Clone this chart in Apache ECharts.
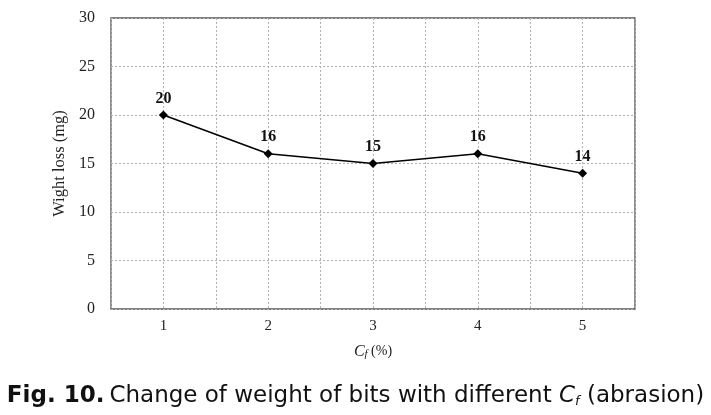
<!DOCTYPE html>
<html><head><meta charset="utf-8">
<script src="https://cdn.jsdelivr.net/npm/echarts@6/dist/echarts.min.js"></script>
<style>html,body{margin:0;padding:0;background:#fff}#c{width:711px;height:415px}</style>
</head><body><div id="c"></div>
<script>
const categories = [1, 2, 3, 4, 5];
const values = [20, 16, 15, 16, 14];
const yTicks = { min: 0, max: 30, interval: 5 };

const chart = echarts.init(document.getElementById('c'));
const serif = 'Liberation Serif';
const sans = 'DejaVu Sans';
chart.setOption({
  backgroundColor: '#fff',
  animation: false,
  grid: { left: 111, top: 18, width: 524, height: 291, show: true, borderColor: '#555', borderWidth: 1.3, backgroundColor: 'transparent' },
  xAxis: {
    type: 'value', min: 0.5, max: 5.5, interval: 0.5,
    axisLine: { show: false }, axisTick: { show: false },
    axisLabel: { fontFamily: serif, fontSize: 15, color: '#222', margin: 10,
      formatter: v => (Number.isInteger(v) && categories.includes(v)) ? String(v) : '' },
    splitLine: { show: true, lineStyle: { color: '#b0b0b0', type: [2, 2], width: 1 } },
    name: '{c|C}{f|f}{n| (%)}', nameLocation: 'middle', nameGap: 34,
    nameTextStyle: { rich: {
      c: { fontFamily: serif, fontStyle: 'italic', fontSize: 16, color: '#222' },
      f: { fontFamily: serif, fontStyle: 'italic', fontSize: 11, color: '#222', verticalAlign: 'bottom', padding: [6, 0, 0, 0] },
      n: { fontFamily: serif, fontSize: 14, color: '#222' } } }
  },
  yAxis: {
    type: 'value', min: yTicks.min, max: yTicks.max, interval: yTicks.interval,
    axisLine: { show: false }, axisTick: { show: false },
    axisLabel: { fontFamily: serif, fontSize: 16, color: '#222', margin: 16 },
    splitLine: { show: true, lineStyle: { color: '#b0b0b0', type: [2, 2], width: 1 } },
    name: 'Wight loss (mg)', nameLocation: 'middle', nameGap: 38,
    nameTextStyle: { fontFamily: serif, fontSize: 16.5, color: '#222' }
  },
  series: [{
    type: 'line',
    data: categories.map((c, i) => [c, values[i]]),
    symbol: 'diamond', symbolSize: 9,
    itemStyle: { color: '#000' },
    lineStyle: { color: '#000', width: 1.5 },
    label: { show: true, position: 'top', distance: 4, fontFamily: serif, fontWeight: 'bold', fontSize: 16, color: '#111',
      formatter: p => p.value[1] }
  }],
  title: {
    left: 'center', top: 380,
    text: '{b|Fig. 10.} {r|Change of weight of bits with different }{c|C}{f|f}{r| (abrasion)}',
    textStyle: { fontWeight: 'normal', rich: {
      b: { fontFamily: sans, fontWeight: 'bold', fontSize: 23, color: '#111' },
      r: { fontFamily: sans, fontWeight: 'normal', fontSize: 23, color: '#111' },
      c: { fontFamily: sans, fontWeight: 'normal', fontStyle: 'italic', fontSize: 23, color: '#111' },
      f: { fontFamily: sans, fontWeight: 'normal', fontStyle: 'italic', fontSize: 13, color: '#111', verticalAlign: 'bottom', padding: [9, 0, 0, 0] }
    } }
  }
});
</script></body></html>
